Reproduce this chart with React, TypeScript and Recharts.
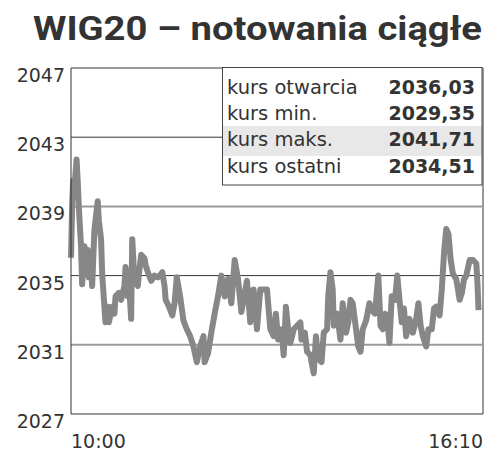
import React from "react";
import { LineChart, Line, XAxis, YAxis, CartesianGrid } from "recharts";

const title = "WIG20 – notowania ciągłe";

// minutes since 10:00
const minutes = [
  0, 1, 2, 3, 5, 6, 7, 9, 10, 12, 13, 15, 16, 18, 19, 21, 22, 24, 25, 27,
  28, 30, 31, 33, 34, 37, 39, 40, 43, 45, 48, 49, 51, 52, 54, 55, 57, 60, 61, 63,
  66, 67, 69, 72, 75, 78, 81, 82, 84, 85, 88, 91, 93, 95, 98, 101, 104, 107, 110, 113,
  116, 119, 120, 123, 126, 129, 132, 135, 138, 141, 144, 147, 150, 153, 158, 161, 164, 167, 170, 176,
  179, 182, 184, 186, 189, 191, 193, 195, 197, 200, 203, 206, 207, 210, 212, 215, 216, 218, 220, 222,
  225, 227, 230, 231, 233, 235, 236, 239, 242, 244, 247, 249, 251, 253, 256, 258, 260, 262, 265, 268,
  270, 273, 276, 278, 280, 282, 284, 286, 288, 291, 293, 295, 297, 299, 301, 304, 307, 310, 312, 314,
  316, 319, 321, 324, 326, 328, 331, 333, 335, 337, 339, 341, 343, 346, 349, 351, 353, 355, 358, 361,
  364, 365, 366,
];

const values = [
  2036.03, 2039.0, 2040.5, 2040.0, 2041.71, 2040.5, 2039.0, 2036.7, 2034.5, 2036.7, 2035.5, 2036.5, 2034.9, 2035.7, 2034.4, 2037.6, 2038.2, 2039.3, 2038.2, 2037.1,
  2035.1, 2033.2, 2032.3, 2033.2, 2032.3, 2033.2, 2032.8, 2033.8, 2034.0, 2033.6, 2034.4, 2035.5, 2033.8, 2034.7, 2032.5, 2037.1, 2034.7, 2034.4, 2035.1, 2036.2,
  2036.0, 2035.6, 2035.2, 2034.7, 2035.0, 2034.9, 2035.1, 2035.2, 2034.4, 2033.6, 2033.2, 2032.7, 2033.4, 2034.9, 2033.8, 2032.4, 2031.9, 2031.5, 2030.9, 2030.0,
  2030.9, 2031.5, 2030.0, 2030.5, 2031.7, 2032.8, 2033.8, 2035.0, 2033.8, 2034.8, 2033.4, 2035.9, 2034.8, 2032.9, 2034.7, 2032.3, 2034.2, 2031.9, 2034.2, 2034.2,
  2031.9, 2031.5, 2032.8, 2031.3, 2031.9, 2030.4, 2033.2, 2031.9, 2031.1, 2031.9, 2032.1, 2032.3, 2031.3, 2031.7, 2030.6, 2030.4, 2030.0, 2029.35, 2031.5, 2030.2,
  2030.0, 2031.7, 2031.9, 2033.8, 2035.2, 2034.2, 2032.1, 2032.8, 2031.3, 2033.4, 2031.7, 2032.3, 2033.6, 2033.4, 2031.9, 2030.9, 2030.6, 2031.9, 2032.4, 2033.4,
  2033.0, 2032.8, 2035.0, 2032.1, 2031.9, 2032.8, 2032.5, 2031.1, 2033.8, 2033.6, 2035.0, 2033.6, 2032.3, 2033.1, 2031.5, 2032.5, 2031.7, 2032.5, 2033.4, 2032.1,
  2031.5, 2030.9, 2031.9, 2031.9, 2033.1, 2033.2, 2032.7, 2034.2, 2036.3, 2037.7, 2037.4, 2035.9, 2035.1, 2034.8, 2033.6, 2034.0, 2034.8, 2035.0, 2035.9, 2035.9,
  2035.7, 2034.6, 2033.0,
];

const yTicks = [2027, 2031, 2035, 2039, 2043, 2047];
const darkGridValues = [2035, 2043];
const lightGridValues = [2031, 2039, 2047];
const xTickMinutes = [0, 370];
const xTickLabels = ["10:00", "16:10"];

const statLabels = ["kurs otwarcia", "kurs min.", "kurs maks.", "kurs ostatni"];
const statValues = ["2036,03", "2029,35", "2041,71", "2034,51"];
const highlightedRow = 2;

const data = minutes.map((m, i) => ({ m, v: values[i] }));

const YTick = (props: any) => {
  const { x, y, payload } = props;
  return (
    <text x={x} y={y + 14} textAnchor="end" fontFamily="DejaVu Sans" fontSize={19} fill="#333">
      {payload.value}
    </text>
  );
};

const XTick = (props: any) => {
  const { x, y, payload, index } = props;
  const i = xTickMinutes.indexOf(payload.value);
  return (
    <text
      x={x}
      y={y + 26}
      textAnchor={i === 0 ? "start" : "end"}
      fontFamily="DejaVu Sans"
      fontSize={19}
      fill="#333"
    >
      {xTickLabels[i >= 0 ? i : index]}
    </text>
  );
};

export default function App() {
  return (
    <div style={{ position: "absolute", left: 0, top: 0, width: 500, height: 460, background: "#fff" }}>
      <LineChart width={500} height={460} data={data} margin={{ top: 68, right: 17, bottom: 0, left: 0 }}>
        <CartesianGrid vertical={false} horizontalValues={lightGridValues} stroke="#9a9a9a" strokeWidth={2} />
        <CartesianGrid vertical={false} horizontalValues={darkGridValues} stroke="#333" strokeWidth={1} />
        <CartesianGrid horizontal={false} verticalValues={[xTickMinutes[1]]} stroke="#9a9a9a" strokeWidth={2} />
        <XAxis
          dataKey="m"
          type="number"
          domain={[xTickMinutes[0], xTickMinutes[1]]}
          ticks={xTickMinutes}
          tick={<XTick />}
          tickLine={false}
          axisLine={{ stroke: "#333", strokeWidth: 1 }}
          height={46}
          interval={0}
        />
        <YAxis
          type="number"
          domain={[yTicks[0], yTicks[yTicks.length - 1]]}
          ticks={yTicks}
          tick={<YTick />}
          tickLine={false}
          tickMargin={0}
          axisLine={{ stroke: "#333", strokeWidth: 1 }}
          width={71}
          interval={0}
        />
        <Line
          type="linear"
          dataKey="v"
          stroke="#878787"
          strokeWidth={6}
          strokeLinejoin="round"
          dot={false}
          isAnimationActive={false}
        />
      </LineChart>
      <svg
        width={500}
        height={460}
        style={{ position: "absolute", left: 0, top: 0, pointerEvents: "none" }}
      >
        <text
          x={33}
          y={39.5}
          fontFamily="Roboto"
          fontWeight={700}
          fontSize={34}
          fill="#333"
          textLength={449}
          lengthAdjust="spacingAndGlyphs"
        >
          {title}
        </text>
        <rect x={222.5} y={67.5} width={259.5} height={117.5} fill="#fff" />
        <rect x={223} y={126} width={259} height={30} fill="#e8e8e8" />
        <rect x={222.5} y={67.5} width={259.5} height={117.5} fill="none" stroke="#444" strokeWidth={1} />
        {statLabels.map((label, i) => (
          <g key={label}>
            <text x={227} y={94 + i * 26.2} fontFamily="DejaVu Sans" fontSize={19.5} fill="#333">
              {label}
            </text>
            <text
              x={475}
              y={94 + i * 26.2}
              textAnchor="end"
              fontFamily="DejaVu Sans"
              fontWeight={700}
              fontSize={19}
              fill="#333"
            >
              {statValues[i]}
            </text>
          </g>
        ))}
      </svg>
    </div>
  );
}
